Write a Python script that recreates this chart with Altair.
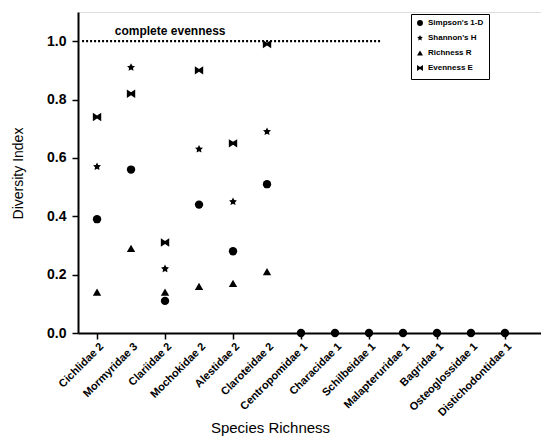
import math
import altair as alt
import pandas as pd

categories = ["Cichlidae 2", "Mormyridae 3", "Clariidae 2", "Mochokidae 2", "Alestidae 2",
              "Claroteidae 2", "Centropomidae 1", "Characidae 1", "Schilbeidae 1",
              "Malapteruridae 1", "Bagridae 1", "Osteoglossidae 1", "Distichodontidae 1"]
simpson = [0.39, 0.56, 0.11, 0.44, 0.28, 0.51, 0, 0, 0, 0, 0, 0, 0]
shannon = [0.57, 0.91, 0.22, 0.63, 0.45, 0.69, None, None, None, None, None, None, None]
richness = [0.14, 0.29, 0.14, 0.16, 0.17, 0.21, None, None, None, None, None, None, None]
evenness = [0.74, 0.82, 0.31, 0.90, 0.65, 0.99, None, None, None, None, None, None, None]
series_names = ["Simpson's 1-D", "Shannon's H", "Richness R", "Evenness E"]

rows = []
for name, vals in zip(series_names, [simpson, shannon, richness, evenness]):
    for i, v in enumerate(vals):
        if v is not None:
            rows.append({"idx": i, "value": v, "index": name})
df = pd.DataFrame(rows)
cat_df = pd.DataFrame({"idx": list(range(len(categories))), "cat": categories,
                       "base": [0.0] * len(categories)})

# marker shapes
pts = []
for k in range(10):
    r = 1.0 if k % 2 == 0 else 0.5
    a = math.radians(-90 + 36 * k)
    pts.append(f"{r*math.cos(a):.3f},{r*math.sin(a):.3f}")
star = "M" + "L".join(pts) + "Z"
bowtie = "M-1,-1L0,-0.35L1,-1L1,1L0,0.35L-1,1Z"

FONT = "Liberation Sans"

x_scale = alt.Scale(domain=[-0.56, 13.06], nice=False, zero=False)
y_scale = alt.Scale(domain=[0, 1.1], nice=False)

x_axis = alt.Axis(
    values=[i * 0.5 for i in range(27)],
    labels=False,
    tickSize=alt.ExprRef("datum.value % 1 === 0 ? 6 : 4"),
    tickColor="black", tickWidth=1.5, domainColor="black", domainWidth=2,
    grid=False, title="Species Richness", titleFont=FONT, titleFontSize=15,
    titleFontWeight="normal", titleX=192, titleY=94, titleBaseline="middle",
    titleColor="black",
)
y_axis = alt.Axis(
    values=[round(i * 0.1, 1) for i in range(12)],
    labelExpr="round(datum.value*10) % 2 === 0 ? format(datum.value, '.1f') : ''",
    labelFont=FONT, labelFontSize=14, labelFontWeight="bold", labelPadding=6,
    tickSize=alt.ExprRef("round(datum.value*10) % 2 === 0 ? 6 : 3"),
    tickColor="black", tickWidth=1.5, domainColor="black", domainWidth=2,
    grid=False, title="Diversity Index", titleFont=FONT, titleFontSize=14,
    titleFontWeight="normal", titleX=-60, titleY=161, titleBaseline="middle",
    labelOverlap=False, labelColor="black", titleColor="black",
)

points = alt.Chart(df).mark_point(filled=True, color="black", opacity=1, size=70).encode(
    x=alt.X("idx:Q", scale=x_scale, axis=x_axis),
    y=alt.Y("value:Q", scale=y_scale, axis=y_axis),
    shape=alt.Shape("index:N",
                    scale=alt.Scale(domain=series_names,
                                    range=["circle", star, "triangle-up", bowtie]),
                    sort=series_names,
                    legend=alt.Legend(
                        title=None, orient="none", legendX=333, legendY=2,
                        strokeColor="black", fillColor="white", padding=5,
                        labelFont=FONT, labelFontSize=8, labelFontWeight="bold",
                        symbolSize=35, symbolFillColor="black", symbolStrokeColor="black",
                        rowPadding=3, labelColor="black",
                    )),
)

cat_labels = alt.Chart(cat_df).mark_text(
    font=FONT, fontSize=11, fontWeight="bold", color="black",
    angle=315, align="right", baseline="middle", xOffset=5, yOffset=12,
).encode(x=alt.X("idx:Q", scale=x_scale), y=alt.Y("base:Q", scale=y_scale), text="cat:N")

line_df = pd.DataFrame({"x": [-0.44], "x2": [8.38], "y": [1.0]})
rule = alt.Chart(line_df).mark_rule(color="black", strokeDash=[2, 2], strokeWidth=2.2).encode(
    x="x:Q", x2="x2:Q", y="y:Q"
)
label_df = pd.DataFrame({"x": [2.15], "y": [1.035], "t": ["complete evenness"]})
label = alt.Chart(label_df).mark_text(font=FONT, fontSize=12, fontWeight="bold",
                                      color="black").encode(
    x="x:Q", y="y:Q", text="t:N"
)

chart = alt.layer(rule, label, points, cat_labels).properties(
    width=463, height=321,
    autosize=alt.AutoSizeParams(type="none"),
    padding={"left": 70, "top": 4, "right": 0, "bottom": 104},
).configure_view(stroke=None, clip=False).configure(background="white")

chart.save("out.html", embed_options={"renderer": "svg", "actions": False})
